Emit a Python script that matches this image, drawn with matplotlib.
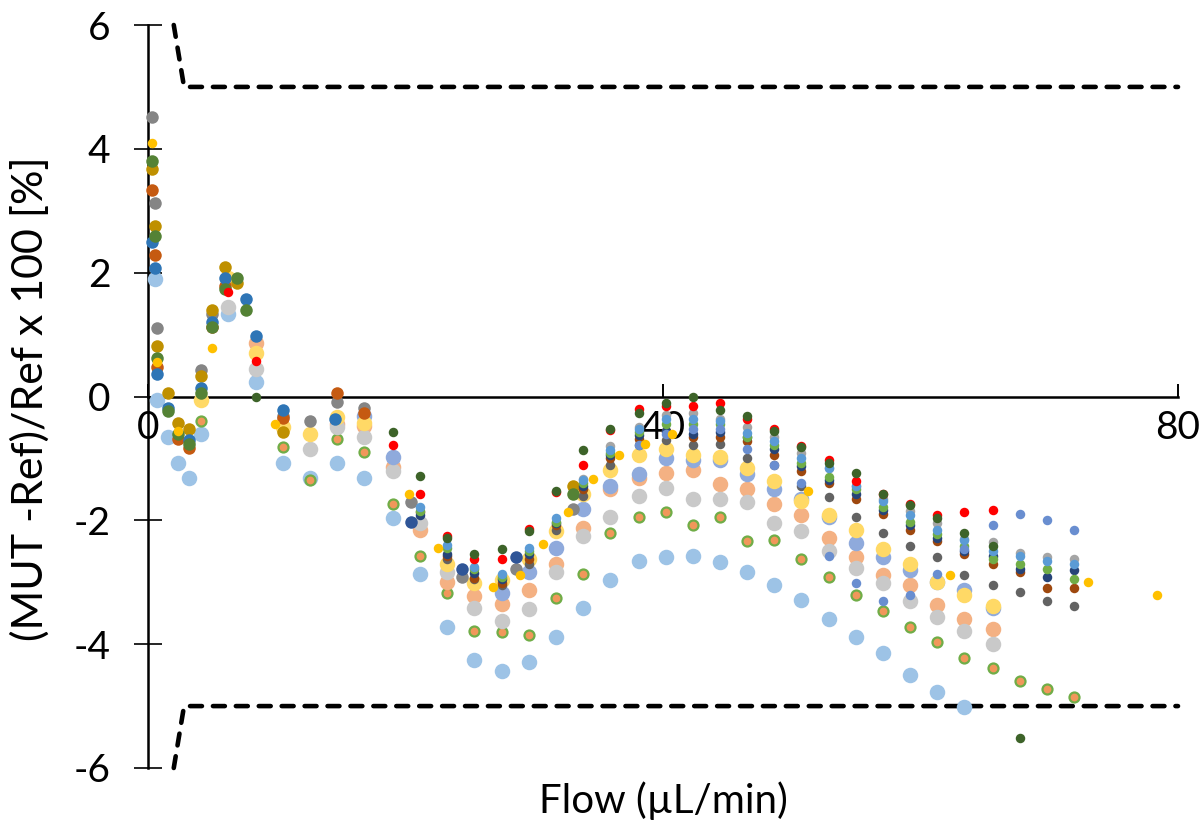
import matplotlib
matplotlib.use("Agg")
import matplotlib.pyplot as plt

plt.rcParams['font.family'] = ['Lato', 'DejaVu Sans']
plt.rcParams['axes.unicode_minus'] = False

# Flow set-points used by the later measurement runs (µL/min)
flow_b = [8.4, 10.5, 12.6, 14.7, 16.8, 19.0, 21.1, 23.2, 25.3, 27.5, 29.6,
          31.7, 33.8, 35.9, 38.1, 40.2, 42.3, 44.4, 46.5, 48.6, 50.7, 52.9,
          55.0, 57.1, 59.2, 61.3, 63.4, 65.6, 67.7, 69.8, 71.9]

# ---- early runs (low-flow start) ----
gray_x = [0.3, 0.55, 0.7, 4.1, 4.95, 10.5, 12.6, 14.7, 16.8, 20.4, 24.4, 28.6, 33.0]
gray_y = [4.51, 3.12, 1.10, 0.42, 1.33, -0.32, -0.40, -0.09, -0.18, -1.71, -2.91, -2.78, -1.81]

gold_x = [0.3, 0.7, 2.35, 4.95, 9.9, 20.3, 22.5, 26.8, 28.9, 30.7, 32.6, 34.6,
          36.6, 38.6, 40.7, 51.3, 62.3, 73.0, 78.4]
gold_y = [4.09, 0.55, -0.55, 0.78, -0.45, -1.57, -2.44, -3.07, -2.89, -2.39, -1.87,
          -1.34, -0.94, -0.76, -0.60, -1.53, -2.88, -3.00, -3.21]

dgold_x = [0.3, 0.55, 0.7, 1.55, 2.35, 3.2, 4.1, 4.95, 6.0, 6.9, 10.5, 33.0]
dgold_y = [3.67, 2.75, 0.81, 0.05, -0.42, -0.52, 0.33, 1.39, 2.09, 1.83, -0.58, -1.45]

greenA_x = [0.3, 0.55, 0.7, 1.55, 2.35, 3.2, 4.1, 4.95, 6.0, 6.9, 7.6, 33.0]
greenA_y = [3.81, 2.60, 0.62, -0.24, -0.60, -0.76, 0.05, 1.12, 1.73, 1.92, 1.40, -1.57]

orangeA_x = [0.3, 0.55, 0.7, 2.35, 3.2, 4.95, 6.0, 10.5, 14.7, 16.8]
orangeA_y = [3.33, 2.28, 0.47, -0.68, -0.83, 1.13, 1.79, -0.35, 0.05, -0.26]

blueA_x = [0.3, 0.55, 0.7, 1.55, 3.2, 4.1, 4.95, 6.0, 7.6, 8.4, 10.5, 14.5]
blueA_y = [2.49, 2.07, 0.36, -0.18, -0.70, 0.13, 1.21, 1.91, 1.58, 0.98, -0.21, -0.36]

bluedark_x = [20.4, 24.4, 28.6]
bluedark_y = [-2.02, -2.78, -2.60]

# ---- large-marker runs ----
lblue_x = [0.55, 0.7, 1.55, 2.35, 3.2, 4.1, 6.2] + flow_b[0:27]
lblue_y = [1.89, -0.05, -0.66, -1.07, -1.31, -0.60, 1.34,
           0.23, -1.08, -1.31, -1.08, -1.31, -1.97, -2.86, -3.73, -4.26, -4.44,
           -4.28, -3.88, -3.41, -2.97, -2.65, -2.60, -2.57, -2.68, -2.83, -3.05,
           -3.28, -3.60, -3.89, -4.15, -4.49, -4.78, -5.02]

ring_x = [4.1] + flow_b[1:31]
ring_y = [-0.39, -0.81, -1.35, -0.69, -0.89, -1.74, -2.57, -3.17, -3.78, -3.81,
          -3.86, -3.26, -2.86, -2.21, -1.95, -1.86, -2.07, -1.95, -2.34, -2.31,
          -2.62, -2.92, -3.20, -3.47, -3.72, -3.97, -4.22, -4.39, -4.59, -4.73, -4.86]

peach_x = [8.4] + flow_b[3:28]
peach_y = [0.86, -0.45, -0.47, -1.14, -2.16, -2.99, -3.23, -3.35, -3.13, -2.70,
           -2.13, -1.49, -1.31, -1.23, -1.19, -1.42, -1.49, -1.73, -1.92, -2.28,
           -2.60, -2.88, -3.05, -3.37, -3.59, -3.75]

lgray_x = [6.2, 8.4] + flow_b[2:28]
lgray_y = [1.44, 0.44, -0.84, -0.50, -0.65, -1.21, -2.05, -2.84, -3.42, -3.62,
           -3.44, -2.84, -2.26, -1.95, -1.60, -1.47, -1.65, -1.66, -1.71, -2.05,
           -2.18, -2.49, -2.77, -3.02, -3.31, -3.56, -3.78, -3.99]

peri_x = flow_b[4:6] + flow_b[9:28]
peri_y = [-0.31, -0.97, -3.17, -2.84, -2.44, -1.81, -1.45, -1.25, -0.99, -1.03,
          -1.03, -1.25, -1.49, -1.65, -1.95, -2.37, -2.60, -2.81, -3.00, -3.12, -3.41]

yellow_x = [4.1, 6.2, 8.4] + flow_b[1:5] + flow_b[7:28]
yellow_y = [-0.05, 1.92, 0.71, -0.49, -0.60, -0.33, -0.43,
            -2.71, -3.02, -2.97, -2.63, -2.18, -1.57, -1.19, -0.94, -0.84, -0.94,
            -0.98, -1.16, -1.37, -1.68, -1.91, -2.16, -2.47, -2.70, -3.00, -3.21, -3.38]

# ---- small-marker runs ----
silver_x = flow_b[12:31]
silver_y = [-1.33, -0.80, -0.50, -0.30, -0.27, -0.36, -0.50, -0.65, -0.92, -1.15,
            -1.45, -1.65, -1.85, -2.05, -2.30, -2.35, -2.52, -2.60, -2.63]

dgray_x = flow_b[7:31]
dgray_y = [-2.62, -2.95, -3.05, -2.70, -2.15, -1.60, -1.11, -0.78, -0.70, -0.78,
           -0.76, -1.00, -1.11, -1.44, -1.63, -1.94, -2.21, -2.42, -2.60, -2.89,
           -3.05, -3.15, -3.30, -3.39]

brown_x = flow_b[6:31]
brown_y = [-1.87, -2.57, -2.93, -3.02, -2.62, -2.08, -1.50, -1.00, -0.68, -0.55,
           -0.66, -0.65, -0.72, -0.95, -1.20, -1.39, -1.65, -1.89, -2.15, -2.34,
           -2.54, -2.71, -2.84, -3.09, -3.10]

navy_x = flow_b[6:31]
navy_y = [-1.92, -2.55, -2.85, -2.95, -2.55, -2.05, -1.45, -0.95, -0.62, -0.55,
          -0.60, -0.58, -0.66, -0.84, -1.12, -1.35, -1.57, -1.84, -2.08, -2.28,
          -2.50, -2.58, -2.78, -2.91, -2.81]

greenS_x = flow_b[6:31]
greenS_y = [-1.85, -2.45, -2.78, -2.92, -2.50, -2.02, -1.40, -0.92, -0.58, -0.44,
            -0.44, -0.45, -0.65, -0.79, -1.07, -1.30, -1.50, -1.79, -2.02, -2.22,
            -2.42, -2.62, -2.70, -2.78, -2.94]

blueS_x = flow_b[6:31]
blueS_y = [-1.78, -2.40, -2.75, -2.86, -2.45, -1.97, -1.35, -0.87, -0.53, -0.36,
           -0.36, -0.40, -0.59, -0.72, -0.99, -1.16, -1.45, -1.68, -1.92, -2.15,
           -2.31, -2.50, -2.57, -2.65, -2.71]

cornf_x = flow_b[14:31]
cornf_y = [-0.79, -0.61, -0.53, -0.53, -0.84, -1.11, -1.40, -2.57, -3.02, -3.31,
           -3.20, -2.86, -2.47, -2.07, -1.89, -2.00, -2.16]

red_x = [6.2, 8.4] + flow_b[5:28]
red_y = [1.68, 0.58, -0.79, -1.57, -2.25, -2.62, -2.63, -2.14, -1.55, -1.11,
         -0.54, -0.20, -0.15, -0.16, -0.11, -0.36, -0.52, -0.80, -1.02, -1.37,
         -1.57, -1.74, -1.91, -1.86, -1.83]

dgreen_x = [8.4] + flow_b[5:29]
dgreen_y = [0.0, -0.57, -1.29, -2.28, -2.54, -2.46, -2.18, -1.53, -0.87, -0.52,
            -0.26, -0.11, 0.0, -0.21, -0.32, -0.56, -0.82, -1.08, -1.24, -1.57,
            -1.76, -1.97, -2.20, -2.41, -5.51]

# Acceptance limits (%)
lim_x = [2.0, 2.8, 80.0]
upper_lim = [6.0, 5.0, 5.0]
lower_lim = [-6.0, -5.0, -5.0]

W, H = 1204, 826
fig = plt.figure(figsize=(W / 100, H / 100), dpi=100)
ax = fig.add_axes([148 / W, 1 - 768 / H, 1030 / W, 743 / H])


def pts(px):
    """marker diameter in pixels -> scatter size (points^2)"""
    return (px * 0.72) ** 2


BIG, MED, SMALL = 15.5, 12.5, 9.5

series = [
    (lblue_x, lblue_y, '#9DC3E6', BIG),
    (ring_x, ring_y, '#F1975A', 10.0),
    (peach_x, peach_y, '#F4B183', BIG),
    (lgray_x, lgray_y, '#C9C9C9', BIG),
    (peri_x, peri_y, '#8FAADC', BIG),
    (yellow_x, yellow_y, '#FFD966', BIG),
    (gray_x, gray_y, '#858585', MED),
    (dgold_x, dgold_y, '#BF9000', MED),
    (orangeA_x, orangeA_y, '#C55A11', MED),
    (blueA_x, blueA_y, '#2E75B6', MED),
    (greenA_x, greenA_y, '#548235', MED),
    (bluedark_x, bluedark_y, '#2F5597', MED),
    (silver_x, silver_y, '#A5A5A5', SMALL),
    (dgray_x, dgray_y, '#636363', SMALL),
    (brown_x, brown_y, '#9E480E', SMALL),
    (navy_x, navy_y, '#264478', SMALL),
    (greenS_x, greenS_y, '#70AD47', SMALL),
    (blueS_x, blueS_y, '#5B9BD5', SMALL),
    (cornf_x, cornf_y, '#698ED0', SMALL),
    (red_x, red_y, '#FF0000', SMALL),
    (dgreen_x, dgreen_y, '#3D6329', SMALL),
    (gold_x, gold_y, '#FFC000', SMALL),
]

for i, (xs, ys, col, d) in enumerate(series):
    if col == '#F1975A':
        ax.scatter(xs, ys, s=pts(d), c=col, edgecolors='#70AD47',
                   linewidths=1.6, zorder=3 + i * 0.01, clip_on=False)
    else:
        ax.scatter(xs, ys, s=pts(d), c=col, linewidths=0,
                   zorder=3 + i * 0.01, clip_on=False)

for lim in (upper_lim, lower_lim):
    ax.plot(lim_x, lim, color='black', lw=3.3, linestyle=(0, (2.6, 2.4)),
            dash_capstyle='round', zorder=2, clip_on=False)

ax.set_xlim(0, 80)
ax.set_ylim(-6, 6)
ax.set_xticks([0, 40, 80])
ax.set_yticks([-6, -4, -2, 0, 2, 4, 6])

for s in ('top', 'right'):
    ax.spines[s].set_visible(False)
ax.spines['bottom'].set_position(('data', 0))
ax.spines['bottom'].set_linewidth(1.8)
ax.spines['left'].set_linewidth(1.8)
ax.spines['bottom'].set_zorder(1)

ax.tick_params(axis='x', direction='in', length=9.5, width=1.4,
               labelsize=28, pad=10)
ax.tick_params(axis='y', direction='inout', length=20, width=1.2,
               labelsize=28, pad=17)
for lab in ax.get_xticklabels() + ax.get_yticklabels():
    lab.set_color('black')

fig.text(30 / W, 1 - 399 / H, '(MUT -Ref)/Ref x 100 [%]', rotation=90,
         ha='center', va='center', fontsize=31)
fig.text(663 / W, 1 - 801 / H, 'Flow (µL/min)', ha='center', va='center',
         fontsize=29)

fig.savefig('out.png', dpi=100)
